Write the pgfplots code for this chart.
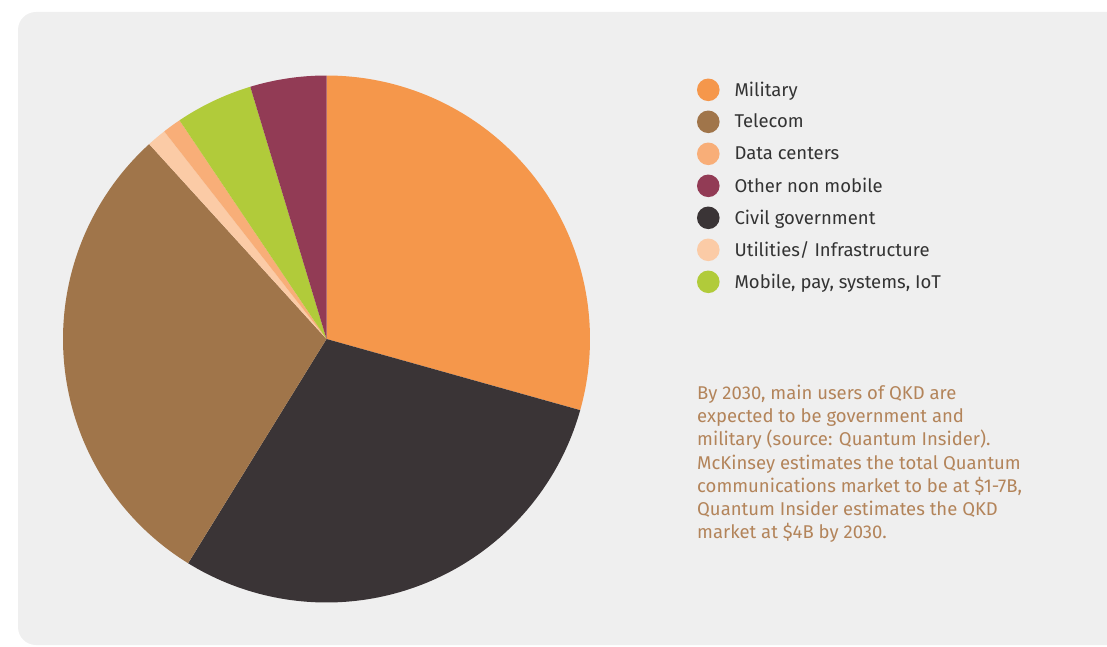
\documentclass[border=0pt]{standalone}
\usepackage{pgfplots}
\pgfplotsset{compat=1.18}
\usepackage{fontspec}
\setmainfont{Fira Sans}
\definecolor{bgpanel}{HTML}{EFEFEF}
\definecolor{cMil}{HTML}{F5974B}
\definecolor{cTel}{HTML}{A0754A}
\definecolor{cDat}{HTML}{F8AE78}
\definecolor{cOth}{HTML}{923B55}
\definecolor{cCiv}{HTML}{3A3436}
\definecolor{cUti}{HTML}{FBCBA6}
\definecolor{cMob}{HTML}{B1CB3A}
\definecolor{legtext}{HTML}{333333}
\definecolor{annot}{HTML}{B3845A}
\def\startang{90}
\newcommand\slice[2]{%
  \pgfmathsetmacro\endang{\startang-3.6*#1}%
  \edef\doslice{\noexpand\addplot[fill=#2, draw=none, domain=\endang:\startang, samples=90, forget plot] ({cos(x)},{sin(x)}) -- (axis cs:0,0) -- cycle;}%
  \doslice
  \global\let\startang\endang}
\begin{document}
\begin{tikzpicture}
\useasboundingbox (0pt,0pt) rectangle (1107pt,646pt);
\fill[bgpanel, rounded corners=18pt] (18pt,1pt) rectangle (1140pt,634pt);
\begin{axis}[
  at={(326.5pt,307pt)}, anchor=center,
  scale only axis, width=527pt, height=527pt,
  xmin=-1, xmax=1, ymin=-1, ymax=1,
  hide axis, clip=false,
  legend image code/.code={\fill[#1] (11.3pt,0pt) circle (11.3pt);},
  legend cell align=left,
  legend style={draw=none, fill=none, at={(1.203,0.9943)}, anchor=north west,
    inner sep=0pt, outer sep=0pt, row sep=9.4pt, column sep=15pt,
    font=\fontsize{18.5}{21}\selectfont, text=legtext,
    nodes={inner sep=0pt}},
]
% shares in percent, clockwise from 12 o'clock
\slice{29.35}{cMil}
\slice{29.45}{cCiv}
\slice{29.45}{cTel}
\slice{1.19}{cUti}
\slice{1.14}{cDat}
\slice{4.75}{cMob}
\slice{4.67}{cOth}
\addlegendimage{fill=cMil, draw=none}\addlegendentry{Military}
\addlegendimage{fill=cTel, draw=none}\addlegendentry{Telecom}
\addlegendimage{fill=cDat, draw=none}\addlegendentry{Data centers}
\addlegendimage{fill=cOth, draw=none}\addlegendentry{Other non mobile}
\addlegendimage{fill=cCiv, draw=none}\addlegendentry{Civil government}
\addlegendimage{fill=cUti, draw=none}\addlegendentry{Utilities/ Infrastructure}
\addlegendimage{fill=cMob, draw=none}\addlegendentry{Mobile, pay, systems, IoT}
\end{axis}
\node[anchor=north west, inner sep=0pt, align=left, text=annot,
  font=\fontsize{18.5}{23.3}\selectfont] at (697pt,261.5pt)
  {By 2030, main users of QKD are\\
   expected to be government and\\
   military (source: Quantum Insider).\\
   McKinsey estimates the total Quantum\\
   communications market to be at \$1-7B,\\
   Quantum Insider estimates the QKD\\
   market at \$4B by 2030.};
\end{tikzpicture}
\end{document}
